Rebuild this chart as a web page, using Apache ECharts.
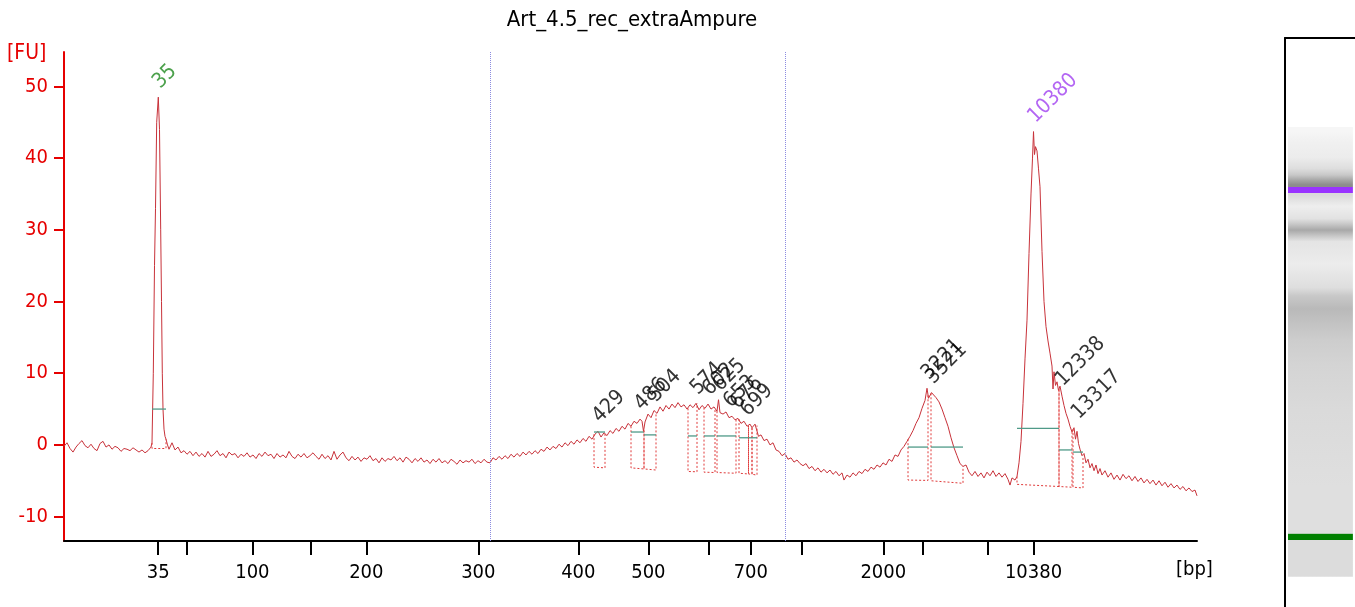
<!DOCTYPE html>
<html><head><meta charset="utf-8">
<script src="https://cdn.jsdelivr.net/npm/echarts@6/dist/echarts.min.js"></script>
<style>html,body{margin:0;padding:0;background:#fff}#c{width:1355px;height:607px}</style>
</head><body><div id="c"></div>
<script>
const FONT = '"DejaVu Sans Condensed","DejaVu Sans",sans-serif';
const chartTitle = 'Art_4.5_rec_extraAmpure';

// Electropherogram trace: [migration position, fluorescence FU]
const trace = [
[6.4,-0.2],[6.7,0.3],[7.0,-0.5],[7.3,-1.0],[7.6,-0.3],[7.9,0.2],[8.2,0.6],[8.5,-0.1],[8.8,-0.4],[9.1,0.1],[9.4,-0.5],[9.7,-0.8],[10.0,0.2],[10.3,0.5],[10.6,-0.3],[10.9,0.0],[11.2,-0.6],[11.5,-0.2],[11.8,-0.4],[12.1,-0.9],[12.4,-0.5],[12.7,-0.6],[13.0,-0.8],[13.3,-0.4],[13.6,-0.7],[13.9,-1.0],[14.2,-0.7],[14.5,-1.1],[14.8,-0.8],[15.1,-0.3],
[15.2,0.3],[15.33,10],[15.45,25],[15.55,33],[15.67,45],[15.83,48.5],[15.95,44],[16.07,30],[16.15,20],[16.23,10],[16.3,5],[16.4,2.2],[16.5,1.2],[16.6,0.8],[16.75,0.0],
[16.9,-0.6],[17.2,0.3],[17.5,-0.7],[17.8,-0.3],[18.1,-1.1],[18.4,-0.8],[18.7,-1.3],[19.0,-0.9],[19.3,-1.5],[19.6,-1.0],[19.9,-1.6],[20.2,-1.2],[20.5,-1.7],[20.8,-0.9],[21.1,-1.6],[21.4,-1.3],[21.7,-0.8],[22.0,-1.5],[22.3,-1.2],[22.6,-1.8],[22.9,-1.0],[23.2,-1.4],[23.5,-1.2],[23.8,-1.8],[24.1,-1.3],[24.4,-1.6],[24.7,-1.1],[25.0,-1.7],[25.3,-1.4],[25.6,-1.9],[25.9,-1.2],[26.2,-1.6],[26.5,-1.0],[26.8,-1.5],[27.1,-1.3],[27.4,-1.9],[27.7,-1.2],[28.0,-1.7],[28.3,-1.4],[28.6,-1.8],[28.9,-0.9],[29.2,-1.6],[29.5,-1.9],[29.8,-1.3],[30.1,-1.7],[30.4,-1.2],[30.7,-1.8],[31.0,-1.5],[31.3,-1.1],[31.6,-1.6],[31.9,-2.0],[32.2,-1.3],[32.5,-1.9],[32.8,-1.5],[33.1,-2.1],[33.4,-0.9],[33.7,-2.0],[34.0,-1.4],[34.3,-1.0],[34.6,-1.8],[34.9,-2.2],[35.2,-1.6],[35.5,-2.1],[35.8,-1.7],[36.1,-2.3],[36.4,-1.8],[36.7,-2.0],[37.0,-1.5],[37.3,-2.2],[37.6,-1.9],[37.9,-2.5],[38.2,-1.8],[38.5,-2.3],[38.8,-1.9],[39.1,-2.1],[39.4,-1.6],[39.7,-2.2],[40.0,-1.8],[40.3,-2.4],[40.6,-1.7],[40.9,-2.0],[41.2,-2.5],[41.5,-1.9],[41.8,-2.3],[42.1,-1.8],[42.4,-2.4],[42.7,-2.1],[43.0,-2.6],[43.3,-2.0],[43.6,-2.4],[43.9,-1.9],[44.2,-2.5],[44.5,-2.2],[44.8,-2.6],[45.1,-2.0],[45.4,-2.3],[45.7,-2.7],[46.0,-2.1],[46.3,-2.5],[46.6,-2.2],[46.9,-2.4],
[47.2,-2.0],[47.5,-2.6],[47.8,-2.2],[48.1,-2.5],[48.4,-2.0],[48.7,-2.4],[49.0,-2.5],[49.3,-1.8],[49.6,-2.1],[49.9,-1.6],[50.2,-2.0],[50.5,-1.5],[50.8,-1.9],[51.1,-1.3],[51.4,-1.7],[51.7,-1.2],[52.0,-1.6],[52.3,-1.0],[52.6,-1.4],[52.9,-0.9],[53.2,-1.3],[53.5,-0.8],[53.8,-1.2],[54.1,-0.6],[54.4,-0.9],[54.7,-0.3],[55.0,-0.7],[55.3,-0.2],[55.6,-0.5],[55.9,0.1],[56.2,-0.3],[56.5,0.3],[56.8,-0.1],[57.1,0.5],[57.4,0.1],[57.7,0.7],[58.0,0.3],[58.3,0.9],[58.6,0.5],[58.9,1.2],[59.2,0.8],[59.5,1.5],[59.8,1.9],[60.1,1.1],[60.4,1.7],[60.7,1.3],[61.0,2.0],[61.3,1.6],[61.6,2.3],[61.9,1.9],[62.2,2.6],[62.5,2.2],[62.8,3.0],[63.1,2.6],[63.4,3.3],[63.7,3.0],[64.0,3.6],[64.2,3.3],[64.35,1.9],[64.5,3.2],[64.8,4.3],[65.1,3.8],[65.4,4.8],[65.7,4.4],[66.0,5.3],[66.3,4.7],[66.6,5.5],[66.9,5.0],[67.2,5.7],[67.5,5.2],[67.8,5.9],[68.1,5.3],[68.4,5.6],[68.7,5.0],[69.0,5.6],[69.3,5.2],[69.6,5.8],[69.9,4.9],[70.2,5.5],[70.5,5.1],[70.8,5.7],[71.1,5.0],[71.4,5.3],[71.7,4.7],[71.85,6.3],[72.0,4.5],[72.3,4.3],[72.6,4.6],[72.9,3.8],[73.2,4.0],[73.5,3.5],[73.8,3.7],[74.1,3.0],[74.4,3.3],[74.7,2.6],[75.0,2.9],[75.2,2.4],[75.5,2.9],[75.7,2.7],[75.85,1.2],[76.1,1.4],[76.4,0.6],[76.7,0.8],[77.0,0.0],[77.3,0.3],[77.6,-0.7],[77.9,-0.9],[78.2,-1.5],[78.5,-1.2],[78.8,-2.0],[79.1,-1.8],[79.4,-2.4],[79.7,-2.1],[80.0,-2.6],
[80.3,-2.9],[80.6,-2.6],[80.9,-3.3],[81.2,-3.0],[81.5,-3.6],[81.8,-3.2],[82.1,-3.8],[82.4,-3.4],[82.7,-3.9],[83.0,-3.5],[83.3,-4.1],[83.6,-3.7],[83.9,-4.3],[84.2,-3.9],[84.4,-4.9],[84.7,-4.2],[85.0,-4.5],[85.3,-3.9],[85.6,-4.3],[85.9,-3.7],[86.2,-4.0],[86.5,-3.4],[86.8,-3.7],[87.1,-3.1],[87.4,-3.4],[87.7,-2.8],[88.0,-3.1],[88.3,-2.5],[88.6,-2.8],[88.9,-2.0],[89.2,-2.3],[89.5,-1.4],[89.8,-1.6],[90.1,-0.7],[90.4,-0.2],[90.7,0.5],[91.0,1.2],[91.3,2.0],[91.6,3.0],[91.9,3.8],[92.2,5.1],[92.5,6.2],[92.7,7.9],[92.85,6.5],[93.0,6.7],[93.15,7.3],[93.3,7.1],[93.6,6.6],[93.9,6.0],[94.2,5.0],[94.5,3.8],[94.8,2.6],[95.1,1.0],[95.4,-0.4],[95.7,-1.5],[96.0,-2.6],[96.3,-3.0],[96.6,-2.8],[96.9,-3.8],[97.2,-4.3],[97.5,-3.7],[97.8,-4.4],[98.1,-3.9],[98.4,-4.6],[98.7,-3.8],[99.0,-4.3],[99.3,-3.6],[99.6,-4.4],[99.9,-3.9],[100.2,-4.5],[100.5,-4.0],[100.8,-4.8],[101.0,-5.6],[101.2,-4.6],[101.5,-4.9],[101.7,-4.4],
[101.9,-2.5],[102.1,0.5],[102.3,5.8],[102.5,12],[102.7,17.4],[102.9,26.7],[103.1,35],[103.25,40],[103.35,43.7],[103.45,40.5],[103.55,41.6],[103.7,41.0],[103.85,38.5],[104.0,36],[104.2,27],[104.4,20],[104.6,16.5],[104.8,14.5],[105.0,12.8],[105.2,11.0],[105.3,7.8],[105.4,10.2],[105.55,8.3],[105.7,8.8],[105.85,7.6],[106.0,8.2],[106.2,6.8],[106.4,5.5],[106.6,4.4],[106.8,3.6],[107.0,2.6],[107.2,1.8],[107.4,2.4],[107.55,0.8],[107.7,1.9],[107.85,0.2],[108.0,-0.6],[108.2,-1.5],[108.4,-1.2],[108.6,-2.5],[108.8,-2.0],[109.0,-3.2],[109.2,-2.6],[109.4,-3.6],[109.6,-2.8],[109.8,-4.0],[110.0,-3.3],[110.2,-4.2],
[110.5,-3.6],[110.8,-4.5],[111.1,-3.9],[111.4,-4.8],[111.7,-4.2],[112.0,-4.9],[112.3,-4.1],[112.6,-4.7],[112.9,-4.3],[113.2,-5.0],[113.5,-4.4],[113.8,-5.1],[114.1,-4.6],[114.4,-5.3],[114.7,-4.8],[115.0,-5.4],[115.3,-4.9],[115.6,-5.6],[115.9,-5.0],[116.2,-5.7],[116.5,-5.2],[116.8,-5.9],[117.1,-5.4],[117.4,-6.0],[117.7,-5.6],[118.0,-6.2],[118.3,-5.8],[118.6,-6.4],[118.9,-6.0],[119.2,-6.5],[119.5,-6.3],[119.7,-7.1]
];

// x axis: tick positions and their size labels ('' = unlabelled tick)
const xTickPositions = [15.82, 18.68, 25.24, 31.04, 36.63, 47.83, 57.83, 64.84, 70.87, 75.08, 80.13, 88.33, 92.3, 98.74, 103.35];
const xTickLabels    = ['35', '', '100', '', '200', '300', '400', '500', '', '700', '', '2000', '', '', '10380'];
const yTicks = [-10, 0, 10, 20, 30, 40, 50];
const regionBounds = [49.0, 78.5];

// Peak labels: [position, height, size bp, kind]
const peakLabels = [
  [15.83, 48.5, '35', 'lower'],
  [59.8, 1.9, '429', 'peak'],
  [64.0, 3.6, '486', 'peak'],
  [65.4, 4.8, '504', 'peak'],
  [69.6, 5.8, '574', 'peak'],
  [70.8, 5.7, '602', 'peak'],
  [71.85, 6.3, '625', 'peak'],
  [72.9, 4.0, '653', 'peak'],
  [73.6, 3.8, '676', 'peak'],
  [74.6, 2.8, '699', 'peak'],
  [92.7, 7.9, '3221', 'peak'],
  [93.15, 7.3, '3521', 'peak'],
  [103.35, 43.7, '10380', 'upper'],
  [106.1, 7.0, '12338', 'peak'],
  [107.7, 2.4, '13317', 'peak']
];

// Peak integration windows: [start, end, trace at start, trace at end, baseline start, baseline end, mid level]
const peakWindows = [
  [15.2, 16.6, 0.3, 0.8, -0.5, -0.5, 5.0],
  [59.4, 60.5, 1.5, 1.6, -3.1, -3.2, 1.8],
  [63.1, 64.4, 2.6, 2.0, -3.2, -3.35, 1.8],
  [64.4, 65.6, 2.0, 4.4, -3.35, -3.5, 1.4],
  [68.8, 69.7, 5.1, 5.8, -3.7, -3.75, 1.25],
  [70.4, 71.5, 5.2, 5.0, -3.8, -3.85, 1.25],
  [71.7, 73.6, 4.7, 3.6, -3.85, -3.95, 1.25],
  [73.9, 74.85, 3.6, 2.7, -3.95, -4.05, 1.0],
  [74.85, 75.2, 2.7, 2.4, -4.05, -4.1, 1.0],
  [75.2, 75.7, 2.4, 2.7, -4.1, -4.2, 1.0],
  [90.8, 92.8, 0.8, 7.0, -4.9, -4.95, -0.3],
  [93.1, 96.3, 7.2, -3.0, -5.0, -5.35, -0.3],
  [101.7, 105.9, -4.4, 7.8, -5.5, -5.8, 2.3],
  [105.9, 107.2, 7.8, 1.8, -5.8, -5.9, -0.7],
  [107.3, 108.3, 2.2, -1.5, -5.9, -6.0, -1.0]
];

// Gel lane (0 = top, 100 = bottom): [start, end, gray level]
const gelBands = [
  [0, 1.8, 246], [1.8, 5.1, 240], [5.1, 8.4, 236], [8.4, 10, 222], [10, 11.3, 200], [11.3, 12.4, 165], [12.4, 13.3, 140],
  [14.7, 15.6, 218], [15.6, 19.6, 238], [19.6, 21.1, 226], [21.1, 22.2, 198], [22.2, 23.6, 168], [23.6, 24.7, 198],
  [24.7, 26.2, 228], [26.2, 34.7, 236], [34.7, 36.7, 222], [36.7, 38.4, 200], [38.4, 42.4, 185], [42.4, 45.1, 195],
  [45.1, 49.6, 205], [49.6, 56.2, 212], [56.2, 69.6, 218], [69.6, 90.4, 223], [91.8, 100, 220]
];
const gelMarkers = [[13.3, 14.7, 'upper'], [90.4, 91.8, 'lower']];

const markerColors = { lower: '#1f8a1f', upper: '#a040f0', peak: '#000000' };
const gelMarkerColors = { lower: '#008000', upper: '#9933ff' };

const chart = echarts.init(document.getElementById('c'), null, { renderer: 'canvas' });

function xLabel(v) {
  for (let i = 0; i < xTickPositions.length; i++) if (Math.abs(xTickPositions[i] - v) < 1e-6) return xTickLabels[i];
  return '';
}

function renderWindow(params, api) {
  const tL = api.value(0), tR = api.value(1);
  const p = [api.coord([tL, api.value(2)]), api.coord([tL, api.value(4)]), api.coord([tR, api.value(5)]), api.coord([tR, api.value(3)])];
  const g1 = api.coord([tL, api.value(6)]), g2 = api.coord([tR, api.value(6)]);
  return { type: 'group', children: [
    { type: 'polyline', shape: { points: p }, style: { stroke: '#e03a3a', lineWidth: 1, lineDash: [2, 2], fill: null } },
    { type: 'line', shape: { x1: g1[0], y1: g1[1], x2: g2[0], y2: g2[1] }, style: { stroke: '#4f9a88', lineWidth: 1.3 } }
  ]};
}

function gray(g) { return 'rgb(' + g + ',' + g + ',' + g + ')'; }
function gelStops() {
  const stops = gelBands.map(b => ({ offset: (b[0] + b[1]) / 200, color: gray(b[2]) }));
  stops.push({ offset: 0, color: gray(gelBands[0][2]) }, { offset: 1, color: gray(gelBands[gelBands.length - 1][2]) });
  gelMarkers.forEach(m => {
    const before = gelBands.find(b => Math.abs(b[1] - m[0]) < 1e-6);
    const after = gelBands.find(b => Math.abs(b[0] - m[1]) < 1e-6);
    if (before) stops.push({ offset: m[0] / 100 - 0.0005, color: gray(before[2]) });
    stops.push({ offset: m[0] / 100, color: gelMarkerColors[m[2]] }, { offset: m[1] / 100, color: gelMarkerColors[m[2]] });
    if (after) stops.push({ offset: m[1] / 100 + 0.0005, color: gray(after[2]) });
  });
  stops.sort((a, b) => a.offset - b.offset);
  return stops;
}
function renderGel(params, api) {
  const a = api.coord([0.043, api.value(0)]), b = api.coord([0.97, api.value(1)]);
  return { type: 'rect', shape: { x: a[0], y: a[1], width: b[0] - a[0], height: b[1] - a[1] },
    style: { fill: new echarts.graphic.LinearGradient(0, 0, 0, 1, gelStops()) } };
}

const option = {
  animation: false,
  backgroundColor: '#ffffff',
  title: { text: chartTitle, left: 627, top: 4, textAlign: 'center',
    textStyle: { fontFamily: FONT, fontSize: 22, fontWeight: 'normal', color: '#000' } },
  graphic: [
    { type: 'text', left: 7, top: 43, style: { text: '[FU]', fontFamily: FONT, fontSize: 21, fill: '#e60000' } },
    { type: 'text', left: 1176, top: 560, style: { text: '[bp]', fontFamily: FONT, fontSize: 20, fill: '#000' } }
  ],
  grid: [
    { left: 64, right: 158, top: 52, bottom: 66 },
    { left: 1285, right: 0, top: 38, bottom: 0 }
  ],
  xAxis: [
    { type: 'value', gridIndex: 0, min: 6.4, max: 119.7,
      axisLine: { show: true, onZero: false, lineStyle: { color: '#000', width: 2 } },
      axisTick: { show: true, customValues: xTickPositions, length: 14, lineStyle: { color: '#000', width: 2 } },
      axisLabel: { show: true, customValues: xTickPositions.filter((v, i) => xTickLabels[i] !== ''), formatter: xLabel,
        margin: 22, fontFamily: FONT, fontSize: 20, color: '#000' },
      splitLine: { show: false } },
    { type: 'value', gridIndex: 1, min: 0, max: 1, position: 'top',
      axisLine: { show: true, onZero: false, lineStyle: { color: '#000', width: 2 } },
      axisTick: { show: false }, axisLabel: { show: false }, splitLine: { show: false } }
  ],
  yAxis: [
    { type: 'value', gridIndex: 0, min: -13.4, max: 54.8,
      axisLine: { show: true, onZero: false, lineStyle: { color: '#e60000', width: 2 } },
      axisTick: { show: true, customValues: yTicks, length: 10, lineStyle: { color: '#e60000', width: 2 } },
      axisLabel: { show: true, customValues: yTicks, margin: 16, fontFamily: FONT, fontSize: 20, color: '#e60000' },
      splitLine: { show: false } },
    { type: 'value', gridIndex: 1, min: -19.8, max: 106.7, inverse: true,
      axisLine: { show: true, onZero: false, lineStyle: { color: '#000', width: 2 } },
      axisTick: { show: false }, axisLabel: { show: false }, splitLine: { show: false } }
  ],
  series: [
    { type: 'line', xAxisIndex: 0, yAxisIndex: 0, data: trace, showSymbol: false, symbol: 'none',
      lineStyle: { color: '#c8323a', width: 1 }, z: 3,
      markLine: { silent: true, symbol: 'none', label: { show: false },
        lineStyle: { color: '#8c8ce0', type: 'dotted', width: 1 },
        data: regionBounds.map(v => ({ xAxis: v })) } },
    { type: 'custom', xAxisIndex: 0, yAxisIndex: 0, data: peakWindows, renderItem: renderWindow,
      encode: { x: [0, 1], y: [2, 3, 4, 5, 6] }, z: 4, silent: true },
    { type: 'scatter', xAxisIndex: 0, yAxisIndex: 0, symbolSize: 1, z: 5, silent: true,
      itemStyle: { color: 'rgba(0,0,0,0)' },
      data: peakLabels.map(p => ({ value: [p[0], p[1]], name: p[2],
        label: { color: markerColors[p[3]] } })),
      label: { show: true, formatter: '{b}', position: [6, -4], rotate: 45, align: 'left', verticalAlign: 'bottom',
        fontFamily: FONT, fontSize: 21 },
      labelLayout: { hideOverlap: false } },
    { type: 'custom', xAxisIndex: 1, yAxisIndex: 1, data: [[0, 100]], renderItem: renderGel,
      encode: { y: [0, 1] }, silent: true }
  ]
};
chart.setOption(option);
</script>
</body></html>
